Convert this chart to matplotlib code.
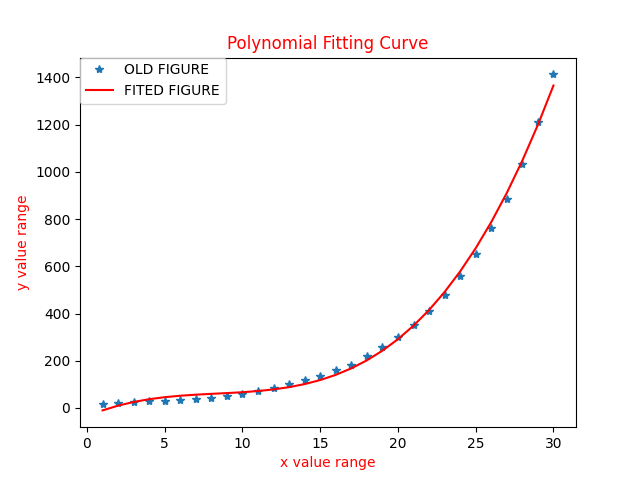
import numpy as np
import matplotlib
matplotlib.use('Agg')
import matplotlib.pyplot as plt

# Data
x = np.arange(1, 31)
y = np.array([17, 21, 25, 30, 30, 34, 38, 42, 49, 58,
              72, 83, 101, 118, 134, 161, 184, 220, 259, 302,
              351, 410, 478, 557, 651, 762, 887, 1035, 1211, 1413])

# Cubic polynomial fit
coef = np.polyfit(x, y, 3)
yfit = np.polyval(coef, x)

plt.figure(figsize=(6.4, 4.8), dpi=100)
plt.plot(x, y, '*', label='OLD FIGURE')
plt.plot(x, yfit, 'r', label='FITED FIGURE')
plt.xlabel('x value range', color='red')
plt.ylabel('y value range', color='red')
plt.title('Polynomial Fitting Curve', color='red')
plt.legend(loc='upper left', borderaxespad=0)
plt.savefig('out.png')
